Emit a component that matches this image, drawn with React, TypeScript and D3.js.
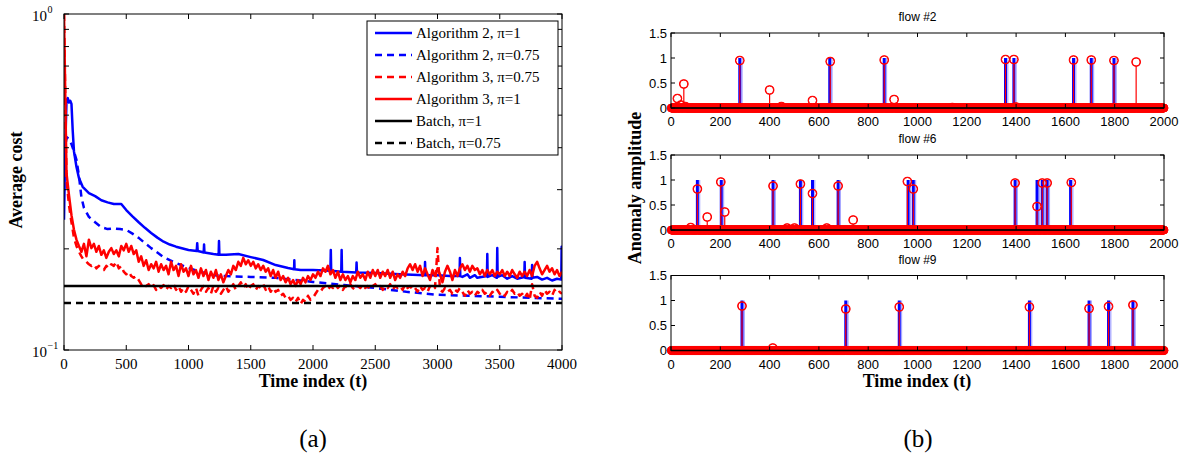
import React from 'react';
import * as d3 from 'd3';

// ---------- Panel (a) data ----------
const T_GRID = d3.range(0, 4001, 20); // time index of the red curves

const alg3Pi1 = [
  1.0, 0.336, 0.289, 0.252, 0.228, 0.213, 0.204, 0.196, 0.207, 0.190,
  0.213, 0.201, 0.207, 0.196, 0.204, 0.192, 0.198, 0.188, 0.196, 0.201,
  0.193, 0.198, 0.190, 0.204, 0.198, 0.207, 0.196, 0.204, 0.193, 0.198,
  0.183, 0.190, 0.178, 0.185, 0.173, 0.180, 0.175, 0.183, 0.171, 0.180,
  0.173, 0.178, 0.168, 0.183, 0.173, 0.178, 0.166, 0.180, 0.171, 0.175,
  0.166, 0.178, 0.168, 0.173, 0.164, 0.175, 0.166, 0.173, 0.1615, 0.171,
  0.164, 0.173, 0.1615, 0.168, 0.159, 0.166, 0.173, 0.168, 0.178, 0.173,
  0.183, 0.178, 0.188, 0.180, 0.185, 0.178, 0.183, 0.175, 0.180, 0.173,
  0.178, 0.171, 0.175, 0.166, 0.173, 0.164, 0.171, 0.1615, 0.166, 0.159,
  0.164, 0.157, 0.1615, 0.155, 0.1615, 0.157, 0.164, 0.159, 0.166, 0.1615,
  0.168, 0.164, 0.171, 0.166, 0.175, 0.171, 0.178, 0.168, 0.173, 0.164,
  0.171, 0.1615, 0.168, 0.1615, 0.166, 0.159, 0.166, 0.1615, 0.171, 0.164,
  0.168, 0.1615, 0.171, 0.164, 0.173, 0.166, 0.173, 0.164, 0.171, 0.166,
  0.173, 0.164, 0.171, 0.1615, 0.168, 0.164, 0.171, 0.166, 0.175, 0.180,
  0.173, 0.180, 0.171, 0.178, 0.166, 0.175, 0.168, 0.1615, 0.173, 0.166,
  0.175, 0.168, 0.159, 0.171, 0.178, 0.171, 0.1615, 0.173, 0.166, 0.175,
  0.180, 0.173, 0.178, 0.171, 0.178, 0.173, 0.175, 0.168, 0.173, 0.166,
  0.173, 0.168, 0.173, 0.166, 0.171, 0.168, 0.173, 0.166, 0.171, 0.166,
  0.173, 0.168, 0.164, 0.171, 0.166, 0.171, 0.166, 0.173, 0.166, 0.178,
  0.183, 0.175, 0.168, 0.173, 0.178, 0.171, 0.175, 0.168, 0.173, 0.166,
  0.171,
];

const alg3Pi075 = [
  1.0, 0.321, 0.270, 0.240, 0.216, 0.204, 0.196, 0.190, 0.185, 0.183,
  0.180, 0.178, 0.180, 0.175, 0.178, 0.175, 0.173, 0.178, 0.175, 0.180,
  0.178, 0.183, 0.175, 0.178, 0.171, 0.168, 0.171, 0.166, 0.164, 0.166,
  0.1615, 0.157, 0.159, 0.155, 0.157, 0.153, 0.156, 0.151, 0.155, 0.153,
  0.156, 0.151, 0.155, 0.153, 0.157, 0.151, 0.155, 0.149, 0.153, 0.149,
  0.155, 0.151, 0.147, 0.153, 0.145, 0.151, 0.155, 0.149, 0.153, 0.147,
  0.155, 0.149, 0.153, 0.147, 0.151, 0.155, 0.149, 0.153, 0.157, 0.151,
  0.155, 0.159, 0.153, 0.157, 0.151, 0.155, 0.157, 0.151, 0.155, 0.153,
  0.157, 0.151, 0.155, 0.149, 0.153, 0.149, 0.151, 0.145, 0.147, 0.143,
  0.145, 0.141, 0.143, 0.139, 0.143, 0.137, 0.141, 0.139, 0.145, 0.141,
  0.143, 0.147, 0.151, 0.149, 0.153, 0.155, 0.151, 0.155, 0.153, 0.157,
  0.153, 0.156, 0.151, 0.155, 0.153, 0.157, 0.153, 0.151, 0.155, 0.153,
  0.157, 0.153, 0.155, 0.151, 0.155, 0.157, 0.153, 0.155, 0.151, 0.155,
  0.153, 0.157, 0.151, 0.155, 0.153, 0.155, 0.151, 0.157, 0.153, 0.155,
  0.151, 0.153, 0.149, 0.155, 0.151, 0.153, 0.149, 0.155, 0.151, 0.153,
  0.201, 0.151, 0.149, 0.153, 0.149, 0.151, 0.147, 0.151, 0.149, 0.153,
  0.149, 0.145, 0.151, 0.147, 0.149, 0.145, 0.149, 0.147, 0.151, 0.147,
  0.149, 0.145, 0.149, 0.147, 0.151, 0.147, 0.149, 0.145, 0.149, 0.147,
  0.151, 0.147, 0.149, 0.145, 0.147, 0.143, 0.147, 0.141, 0.157, 0.145,
  0.143, 0.149, 0.145, 0.151, 0.147, 0.149, 0.145, 0.151, 0.147, 0.149,
  0.147,
];

const alg2Pi1: [number, number][] = [
  [0, 0.244], [10, 0.40], [20, 0.55], [30, 0.562], [40, 0.545], [50, 0.552], [60, 0.54],
  [70, 0.45], [80, 0.39], [100, 0.351], [120, 0.325], [150, 0.306], [200, 0.293],
  [250, 0.287], [300, 0.279], [350, 0.275], [400, 0.272], [460, 0.272], [500, 0.261],
  [550, 0.250], [600, 0.240], [650, 0.231], [700, 0.223], [750, 0.216], [800, 0.210],
  [850, 0.206], [900, 0.203], [1000, 0.1985], [1066, 0.197], [1070, 0.208], [1074, 0.197],
  [1100, 0.196], [1122, 0.195], [1125, 0.206], [1128, 0.195], [1200, 0.193],
  [1242, 0.192], [1245, 0.211], [1248, 0.192], [1300, 0.192], [1400, 0.193],
  [1500, 0.189], [1600, 0.1853], [1700, 0.179], [1800, 0.1754], [1848, 0.174],
  [1850, 0.185], [1852, 0.174], [1900, 0.173], [2000, 0.173], [2140, 0.172],
  [2143, 0.1985], [2146, 0.172], [2227, 0.171], [2230, 0.1985], [2233, 0.171],
  [2347, 0.170], [2350, 0.182], [2353, 0.170], [2500, 0.1695], [2700, 0.168],
  [2897, 0.167], [2900, 0.1827], [2903, 0.167], [3000, 0.167], [3100, 0.166],
  [3177, 0.166], [3180, 0.1878], [3183, 0.166], [3200, 0.165], [3240, 0.168],
  [3260, 0.164], [3300, 0.167], [3320, 0.164], [3397, 0.166], [3400, 0.193],
  [3403, 0.165], [3440, 0.167], [3477, 0.164], [3480, 0.2012], [3483, 0.165],
  [3520, 0.167], [3560, 0.163], [3600, 0.166], [3640, 0.163], [3697, 0.165],
  [3700, 0.1827], [3703, 0.164], [3757, 0.163], [3760, 0.179], [3763, 0.164],
  [3800, 0.165], [3840, 0.162], [3880, 0.164], [3920, 0.161], [3960, 0.163],
  [3994, 0.162], [3997, 0.203], [4000, 0.162],
];

const alg2Pi075: [number, number][] = [
  [0, 0.30], [10, 0.40], [20, 0.43], [40, 0.425], [60, 0.41], [80, 0.39], [100, 0.368],
  [120, 0.33], [140, 0.285], [160, 0.265], [200, 0.249], [250, 0.240], [300, 0.232],
  [350, 0.229], [400, 0.230], [450, 0.229], [500, 0.2277], [550, 0.222], [600, 0.2156],
  [650, 0.208], [700, 0.201], [750, 0.195], [800, 0.189], [850, 0.185], [900, 0.1815],
  [1000, 0.1754], [1100, 0.1707], [1200, 0.167], [1300, 0.166], [1500, 0.165],
  [1700, 0.164], [2000, 0.1594], [2250, 0.156], [2500, 0.153], [2750, 0.149],
  [3000, 0.146], [3250, 0.145], [3500, 0.144], [3750, 0.143], [4000, 0.142],
];

const batchPi1 = 0.155;
const batchPi075 = 0.138;

const xTicksA = [0, 500, 1000, 1500, 2000, 2500, 3000, 3500, 4000];
const yMinorTicksA = [0.2, 0.3, 0.4, 0.5, 0.6, 0.7, 0.8, 0.9];
const legendLabels = [
  'Algorithm 2, \u03c0=1',
  'Algorithm 2, \u03c0=0.75',
  'Algorithm 3, \u03c0=0.75',
  'Algorithm 3, \u03c0=1',
  'Batch, \u03c0=1',
  'Batch, \u03c0=0.75',
];

// ---------- Panel (b) data ----------
const flowTitles = ['flow #2', 'flow #6', 'flow #9'];
const trueAnomalies: number[][] = [
  [279, 644, 865, 1357, 1391, 1633, 1705, 1797],
  [107, 204, 414, 525, 574, 678, 962, 983, 1396, 1485, 1506, 1526, 1621],
  [288, 709, 926, 1454, 1696, 1775, 1874],
];
const estAnomalies: [number, number][][] = [
  [[26, 0.19], [40, 0.06], [52, 0.48], [58, 0.03], [279, 0.95], [400, 0.36], [448, 0.03],
   [574, 0.15], [646, 0.93], [865, 0.96], [905, 0.17], [1141, 0.01], [1357, 0.97],
   [1391, 0.97], [1400, 0.02], [1633, 0.96], [1705, 0.96], [1797, 0.95], [1887, 0.92]],
  [[80, 0.05], [107, 0.82], [147, 0.26], [202, 0.96], [218, 0.36], [414, 0.88], [471, 0.04],
   [501, 0.04], [525, 0.92], [574, 0.73], [632, 0.04], [678, 0.88], [739, 0.20],
   [959, 0.97], [983, 0.82], [1396, 0.94], [1485, 0.47], [1506, 0.94], [1526, 0.94],
   [1624, 0.95]],
  [[288, 0.89], [413, 0.05], [709, 0.83], [926, 0.87], [1454, 0.87], [1696, 0.84],
   [1775, 0.88], [1874, 0.91]],
];
const xTicksB = [0, 200, 400, 600, 800, 1000, 1200, 1400, 1600, 1800, 2000];
const yTicksB = [0, 0.5, 1, 1.5];
const timeIndexB = d3.range(1, 2001);

const SERIF = '"Liberation Serif", "Times New Roman", serif';
const SANS = '"Liberation Sans", Arial, Helvetica, sans-serif';
const LW = 2.5;

function PanelA() {
  const L = 64, R = 562, T = 14, B = 350;
  const x = d3.scaleLinear().domain([0, 4000]).range([L, R]);
  const y = d3.scaleLog().domain([0.1, 1]).range([B, T]);
  const line = d3.line<[number, number]>().x(d => x(d[0])).y(d => y(d[1]));
  const gridPairs = (vals: number[]) => vals.map((v, i) => [T_GRID[i], v] as [number, number]);
  const series = [
    { d: alg2Pi1, color: '#0000ff', dash: undefined },
    { d: alg2Pi075, color: '#0000ff', dash: '7,5' },
    { d: gridPairs(alg3Pi075), color: '#ff0000', dash: '7,5' },
    { d: gridPairs(alg3Pi1), color: '#ff0000', dash: undefined },
  ];
  const legendStyles = [
    { color: '#0000ff', dash: undefined },
    { color: '#0000ff', dash: '7,5' },
    { color: '#ff0000', dash: '7,5' },
    { color: '#ff0000', dash: undefined },
    { color: '#000000', dash: undefined },
    { color: '#000000', dash: '7,5' },
  ];
  const tl = 5;
  return (
    <g>
      <defs>
        <clipPath id="clipA">
          <rect x={L} y={T} width={R - L} height={B - T} />
        </clipPath>
      </defs>
      <g clipPath="url(#clipA)">
        {series.map((s, i) => (
          <path key={i} d={line(s.d) || ''} fill="none" stroke={s.color} strokeWidth={LW}
            strokeDasharray={s.dash} strokeLinejoin="round" />
        ))}
        <line x1={L} x2={R} y1={y(batchPi1)} y2={y(batchPi1)} stroke="#000" strokeWidth={LW} />
        <line x1={L} x2={R} y1={y(batchPi075)} y2={y(batchPi075)} stroke="#000" strokeWidth={LW}
          strokeDasharray="7,5" />
      </g>
      {xTicksA.map(t => (
        <g key={t}>
          <line x1={x(t)} x2={x(t)} y1={B} y2={B - tl} stroke="#000" />
          <line x1={x(t)} x2={x(t)} y1={T} y2={T + tl} stroke="#000" />
          <text x={x(t)} y={B + 19} textAnchor="middle" fontFamily={SERIF} fontSize={15}>{t}</text>
        </g>
      ))}
      {yMinorTicksA.concat([0.1, 1]).map(v => (
        <g key={v}>
          <line x1={L} x2={L + tl} y1={y(v)} y2={y(v)} stroke="#000" />
          <line x1={R} x2={R - tl} y1={y(v)} y2={y(v)} stroke="#000" />
        </g>
      ))}
      <text x={47} y={y(1) + 7} textAnchor="end" fontFamily={SERIF} fontSize={15}>10</text>
      <text x={47.5} y={y(1) - 1} fontFamily={SERIF} fontSize={10}>0</text>
      <text x={47} y={y(0.1) + 7} textAnchor="end" fontFamily={SERIF} fontSize={15}>10</text>
      <text x={47.5} y={y(0.1) - 1} fontFamily={SERIF} fontSize={10}>{'\u22121'}</text>
      <rect x={L} y={T} width={R - L} height={B - T} fill="none" stroke="#000" strokeWidth={1} />
      <rect x={367} y={21} width={191} height={134} fill="#fff" stroke="#000" strokeWidth={1} />
      {legendLabels.map((lab, i) => {
        const ly = 33 + i * 22;
        return (
          <g key={lab}>
            <line x1={375} x2={412} y1={ly} y2={ly} stroke={legendStyles[i].color} strokeWidth={LW}
              strokeDasharray={legendStyles[i].dash} />
            <text x={416} y={ly + 5} fontFamily={SERIF} fontSize={15}>{lab}</text>
          </g>
        );
      })}
      <text x={(L + R) / 2} y={387} textAnchor="middle" fontFamily={SERIF} fontSize={18}
        fontWeight="bold">Time index (t)</text>
      <text transform={`translate(22,180) rotate(-90)`} textAnchor="middle" fontFamily={SERIF}
        fontSize={18} fontWeight="bold">Average cost</text>
      <text x={313} y={447} textAnchor="middle" fontFamily={SERIF} fontSize={25}>(a)</text>
    </g>
  );
}

function FlowPanel({ idx, top }: { idx: number; top: number }) {
  const L = 671, R = 1164, H = 75;
  const B = top + H;
  const x = d3.scaleLinear().domain([0, 2000]).range([L, R]);
  const y = d3.scaleLinear().domain([0, 1.5]).range([B, top]);
  const est = new Map(estAnomalies[idx].map(d => [d[0], d[1]] as [number, number]));
  const tl = 4;
  return (
    <g>
      <text x={(L + R) / 2} y={top - 12} textAnchor="middle" fontFamily={SANS} fontSize={12}>
        {flowTitles[idx]}
      </text>
      {trueAnomalies[idx].map(t => (
        <g key={t}>
          <line x1={x(t) + 2.3} x2={x(t) + 2.3} y1={y(0)} y2={y(1)} stroke="#a8a8ff" strokeWidth={1.2} />
          <line x1={x(t)} x2={x(t)} y1={y(0)} y2={y(1)} stroke="#0000ff" strokeWidth={3} />
        </g>
      ))}
      {timeIndexB.map(t => {
        const v = est.get(t) ?? 0;
        return (
          <circle key={t} cx={x(t)} cy={y(v)} r={4} fill="none" stroke="#ff0000" strokeWidth={1} />
        );
      })}
      {estAnomalies[idx].map(([t, v]) => (
        <g key={'s' + t}>
          <line x1={x(t)} x2={x(t)} y1={y(0)} y2={y(v) + 4} stroke="#ff0000" strokeWidth={1.2} />
          <circle cx={x(t)} cy={y(v)} r={4.3} fill="none" stroke="#ff0000" strokeWidth={1.1} />
        </g>
      ))}
      <line x1={L} x2={R} y1={y(0)} y2={y(0)} stroke="#000" strokeWidth={1.5} />
      {xTicksB.map(t => (
        <g key={t}>
          <line x1={x(t)} x2={x(t)} y1={B} y2={B - tl} stroke="#000" />
          <line x1={x(t)} x2={x(t)} y1={top} y2={top + tl} stroke="#000" />
          <text x={x(t)} y={B + 18} textAnchor="middle" fontFamily={SANS} fontSize={13}>{t}</text>
        </g>
      ))}
      {yTicksB.map(v => (
        <g key={v}>
          <line x1={L} x2={L + tl} y1={y(v)} y2={y(v)} stroke="#000" />
          <line x1={R} x2={R - tl} y1={y(v)} y2={y(v)} stroke="#000" />
          <text x={L - 4} y={y(v) + 4.5} textAnchor="end" fontFamily={SANS} fontSize={13}>{v}</text>
        </g>
      ))}
      <rect x={L} y={top} width={R - L} height={H} fill="none" stroke="#000" strokeWidth={1} />
    </g>
  );
}

function PanelB() {
  const tops = [33, 155, 275.5];
  return (
    <g>
      {tops.map((tp, i) => <FlowPanel key={i} idx={i} top={tp} />)}
      <text x={917} y={387} textAnchor="middle" fontFamily={SERIF} fontSize={18}
        fontWeight="bold">Time index (t)</text>
      <text transform={`translate(641,188) rotate(-90)`} textAnchor="middle" fontFamily={SERIF}
        fontSize={18} fontWeight="bold">Anomaly amplitude</text>
      <text x={918} y={447} textAnchor="middle" fontFamily={SERIF} fontSize={25}>(b)</text>
    </g>
  );
}

export default function App() {
  return (
    <svg width={1193} height={464} style={{ position: 'absolute', left: 0, top: 0, background: '#fff' }}>
      <rect x={0} y={0} width={1193} height={464} fill="#fff" />
      <PanelA />
      <PanelB />
    </svg>
  );
}
